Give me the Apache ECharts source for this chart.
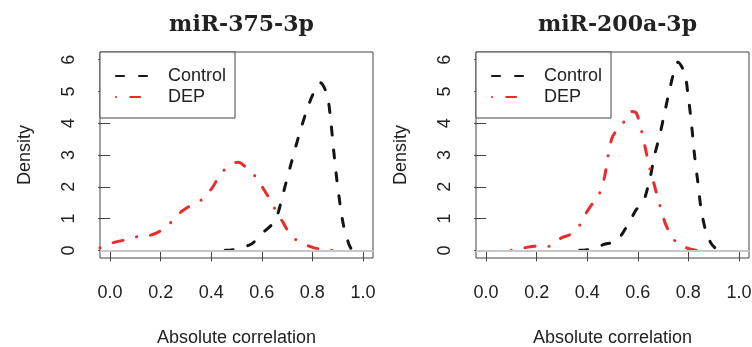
<!DOCTYPE html>
<html><head><meta charset="utf-8">
<script src="https://cdn.jsdelivr.net/npm/echarts@6/dist/echarts.min.js"></script>
<style>html,body{margin:0;padding:0;background:#fff}#c{width:752px;height:347px}</style>
</head><body><div id="c"></div>
<script>
const titles = ['miR-375-3p', 'miR-200a-3p'];
const seriesNames = ['Control', 'DEP'];
const xTicks = [0, 0.2, 0.4, 0.6, 0.8, 1.0];
const yTicks = [0, 1, 2, 3, 4, 5, 6];

const left_control = [[0.455,0],[0.50,0.04],[0.561,0.21],[0.594,0.49],[0.64,0.81],[0.66,1.07],[0.687,1.86],[0.713,2.64],[0.746,3.59],[0.779,4.43],[0.805,4.95],[0.832,5.27],[0.858,4.9],[0.871,4.22],[0.884,3.17],[0.897,2.22],[0.911,1.38],[0.924,0.76],[0.944,0.21],[0.955,0.03]];
const left_dep = [[-0.04,0.08],[0.016,0.25],[0.066,0.34],[0.112,0.44],[0.165,0.49],[0.211,0.67],[0.244,0.91],[0.284,1.23],[0.33,1.46],[0.363,1.6],[0.403,1.96],[0.436,2.38],[0.475,2.7],[0.506,2.77],[0.541,2.59],[0.574,2.33],[0.607,1.93],[0.64,1.49],[0.66,1.18],[0.684,0.88],[0.713,0.49],[0.746,0.28],[0.795,0.11],[0.845,0.02],[0.891,0]];
const right_control = [[0.37,0],[0.416,0.04],[0.475,0.21],[0.501,0.23],[0.515,0.28],[0.541,0.55],[0.568,0.91],[0.594,1.28],[0.62,1.49],[0.647,2.22],[0.667,3.01],[0.686,3.59],[0.706,4.32],[0.726,5.06],[0.746,5.69],[0.759,5.92],[0.785,5.58],[0.798,4.95],[0.812,4.01],[0.825,2.96],[0.838,2.12],[0.851,1.28],[0.871,0.55],[0.891,0.21],[0.911,0.04]];
const right_dep = [[0.099,0],[0.152,0.08],[0.198,0.13],[0.251,0.13],[0.297,0.39],[0.33,0.49],[0.37,0.79],[0.396,1.18],[0.422,1.49],[0.449,1.8],[0.469,2.33],[0.482,2.96],[0.501,3.59],[0.541,3.99],[0.574,4.37],[0.594,4.32],[0.614,3.78],[0.634,3.06],[0.647,2.59],[0.667,2.01],[0.686,1.44],[0.706,0.91],[0.726,0.55],[0.746,0.31],[0.792,0.08],[0.832,0]];

const panels = [[left_control, left_dep], [right_control, right_dep]];
const gridLefts = [100, 476];
const FONT = '"Liberation Sans", Arial, sans-serif';
const colors = ['#151515', '#ee2a2a'];
const dashes = [[8, 15], [0.1, 14, 10, 14]];

const chart = echarts.init(document.getElementById('c'), null, {renderer: 'canvas'});
const grid = [], xAxis = [], yAxis = [], series = [], title = [], legend = [];
panels.forEach((pd, i) => {
  grid.push({left: gridLefts[i], top: 52, width: 273, height: 206, show: true, borderColor: '#444', borderWidth: 1,
    backgroundColor: 'transparent', containLabel: false, outerBoundsMode: 'none'});
  title.push({text: titles[i], left: gridLefts[i] + 136.5, top: 9, textAlign: 'center',
    textStyle: {fontFamily: '"DejaVu Serif", serif', fontWeight: 'bold', fontSize: 22, color: '#222'}});
  xAxis.push({type: 'value', gridIndex: i, min: -0.04, max: 1.04,
    name: 'Absolute correlation', nameLocation: 'middle', nameGap: 71,
    nameTextStyle: {fontFamily: FONT, fontSize: 18, color: '#222'},
    axisLine: {show: false}, splitLine: {show: false},
    axisTick: {show: true, inside: false, length: 11, customValues: xTicks, lineStyle: {color: '#444'}},
    axisLabel: {customValues: xTicks, margin: 26, fontFamily: FONT, fontSize: 18, color: '#222', formatter: v => v.toFixed(1)}});
  yAxis.push({type: 'value', gridIndex: i, min: -0.24, max: 6.24,
    name: 'Density', nameLocation: 'middle', nameGap: 66,
    nameTextStyle: {fontFamily: FONT, fontSize: 18, color: '#222'},
    axisLine: {show: false}, splitLine: {show: false},
    axisTick: {show: true, length: 12, customValues: yTicks, lineStyle: {color: '#444'}},
    axisLabel: {customValues: yTicks, rotate: 90, margin: 22, fontFamily: FONT, fontSize: 18, color: '#222'}});
  series.push({type: 'line', name: 'zero' + i, xAxisIndex: i, yAxisIndex: i, data: [], silent: true, z: 1,
    markLine: {silent: true, symbol: 'none', label: {show: false}, lineStyle: {color: '#c8c8c8', width: 2, type: 'solid'}, data: [{yAxis: 0}]}});
  pd.forEach((d, k) => {
    series.push({type: 'line', name: seriesNames[k], xAxisIndex: i, yAxisIndex: i, data: d,
      showSymbol: false, symbol: 'none', smooth: 0.3, z: 3,
      lineStyle: {color: colors[k], width: 3, type: dashes[k], cap: 'round'},
      itemStyle: {color: colors[k]}});
  });
  legend.push({left: gridLefts[i], top: 52, orient: 'vertical', data: seriesNames,
    itemWidth: 37, itemHeight: 14, itemGap: 3,
    itemStyle: {opacity: 0},
    padding: [15, 9, 12, 15], borderColor: '#444', borderWidth: 1, backgroundColor: '#fff',
    textStyle: {fontFamily: FONT, fontSize: 18, color: '#222', padding: [0, 0, 0, 10]},
    selectedMode: false});
});
chart.setOption({animation: false, title, grid, xAxis, yAxis, series, legend});
</script></body></html>
